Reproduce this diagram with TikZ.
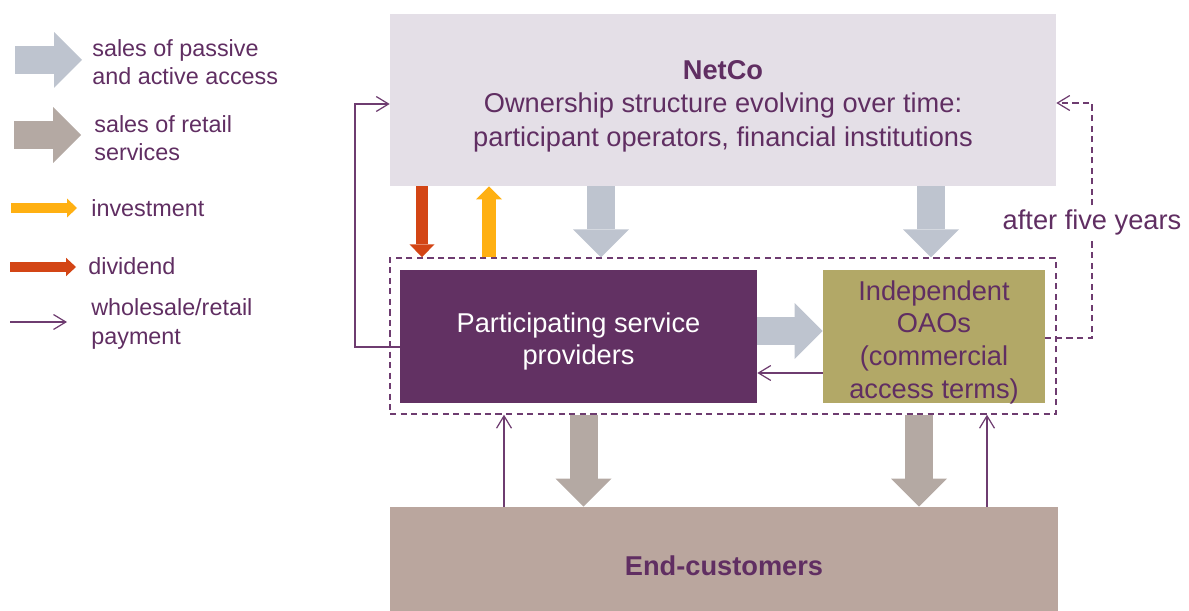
\documentclass[tikz,border=0pt]{standalone}
\usepackage{fontspec}
\setmainfont{Liberation Sans}
\usepackage{xcolor}
\usetikzlibrary{arrows.meta,positioning}
\definecolor{ink}{RGB}{96,46,98}
\definecolor{wire}{RGB}{110,60,112}
\definecolor{netfill}{RGB}{228,223,231}
\definecolor{pspfill}{RGB}{98,49,99}
\definecolor{oaofill}{RGB}{178,168,103}
\definecolor{endfill}{RGB}{186,166,158}
\definecolor{accblue}{RGB}{190,196,207}
\definecolor{acctaupe}{RGB}{180,169,163}
\definecolor{invcol}{RGB}{255,176,18}
\definecolor{divcol}{RGB}{211,69,21}

\begin{document}
\begin{tikzpicture}[x=0.02cm, y=-0.02cm,
  every node/.style={inner sep=0pt, text=ink, align=center},
  block/.style={rectangle, font=\fontsize{15.5}{18.6}\selectfont},
  blocktxt/.style={font=\fontsize{15.5}{18.6}\selectfont},
  netbox/.style={block, fill=netfill, minimum width=13.32cm, minimum height=3.44cm},
  groupbox/.style={rectangle, draw=wire, line width=0.85pt, dash pattern=on 3.5pt off 2.5pt, minimum width=13.32cm, minimum height=3.12cm},
  pspbox/.style={block, fill=pspfill, minimum width=7.14cm, minimum height=2.66cm},
  oaobox/.style={block, fill=oaofill, minimum width=4.44cm, minimum height=2.66cm},
  endbox/.style={block, fill=endfill, minimum width=13.36cm, minimum height=2.36cm},
  fatblue/.style={draw=accblue, line width=0.56cm, -{Triangle[width=1.12cm, length=0.56cm, line width=0pt]}},
  fattaupe/.style={draw=acctaupe, line width=0.56cm, -{Triangle[width=1.12cm, length=0.56cm, line width=0pt]}},
  divarr/.style={draw=divcol, line width=0.25cm, -{Triangle[width=0.5cm, length=0.26cm, line width=0pt]}},
  invarr/.style={draw=invcol, line width=0.27cm, -{Triangle[width=0.52cm, length=0.26cm, line width=0pt]}},
  smalldiv/.style={draw=divcol, line width=0.19cm, -{Triangle[width=0.37cm, length=0.2cm, line width=0pt]}},
  smallinv/.style={draw=invcol, line width=0.2cm, -{Triangle[width=0.38cm, length=0.2cm, line width=0pt]}},
  pay/.style={draw=wire, line width=0.7pt, -{Straight Barb[length=7pt, width=8.5pt]}},
  later/.style={pay, dash pattern=on 3.5pt off 2.5pt},
  lbl/.style={fill=white, inner sep=2pt, font=\fontsize{15.5}{18.6}\selectfont},
  legtxt/.style={anchor=west, align=left, font=\fontsize{13.3}{16}\selectfont}
]
\useasboundingbox (0,0) rectangle (1189,611);

% Legend
\node[legtxt] (leg1) at (92,62) {sales of passive\\and active access};
\node[legtxt] (leg2) at (94,138) {sales of retail\\services};
\node[legtxt] (leg3) at (91,208) {investment};
\node[legtxt] (leg4) at (88,266) {dividend};
\node[legtxt] (leg5) at (91,324) {wholesale/retail\\payment};
\coordinate (k1a) at (15,60);  \coordinate (k1b) at (82,60);
\coordinate (k2a) at (14,135); \coordinate (k2b) at (81,135);
\coordinate (k3a) at (11,208); \coordinate (k3b) at (77,208);
\coordinate (k4a) at (10,267); \coordinate (k4b) at (76,267);
\coordinate (k5a) at (10,322); \coordinate (k5b) at (67,322);
\draw[fatblue] (k1a) -- (k1b);
\draw[fattaupe] (k2a) -- (k2b);
\draw[smallinv] (k3a) -- (k3b);
\draw[smalldiv] (k4a) -- (k4b);
\draw[pay] (k5a) -- (k5b);

% Boxes
\node[netbox] (netco) at (723,100) {};
\node[blocktxt, font=\fontsize{15.5}{19}\selectfont] (netcotxt) at (723,106) {\textbf{NetCo}\\Ownership structure evolving over time:\\participant operators, financial institutions};
\node[groupbox] (group) at (723,336) {};
\node[pspbox] (psp) at (578.5,336.5) {};
\node[blocktxt, text=white] (psptxt) at (578.5,341.5) {Participating service\\providers};
\node[oaobox] (oao) at (934,336.5) {};
\node[blocktxt] (oaotxt) at (934,342) {Independent\\OAOs\\(commercial\\access terms)};
\node[endbox] (end) at (724,566) {\textbf{End-customers}};

% NetCo <-> group
\draw[divarr] (netco.south -| 422,0) -- (group.north -| 422,0);
\draw[invarr] (group.north -| 489,0) -- (netco.south -| 489,0);
\draw[fatblue] (netco.south -| 601,0) -- (group.north -| 601,0);
\draw[fatblue] (netco.south -| 931,0) -- (group.north -| 931,0);

% inside group
\draw[fatblue] (psp.east |- 0,331) -- (oao.west |- 0,331);
\draw[pay] (oao.west |- 0,373) -- (psp.east |- 0,373);

% group <-> end-customers
\draw[fattaupe] (group.south -| 583.5,0) -- (end.north -| 583.5,0);
\draw[fattaupe] (group.south -| 919,0) -- (end.north -| 919,0);
\draw[pay] (end.north -| 504,0) -- (group.south -| 504,0);
\draw[pay] (end.north -| 987,0) -- (group.south -| 987,0);

% payments back to NetCo
\draw[pay] (psp.west |- 0,347) -- (355,347) -- (355,104) -- (netco.west |- 0,104);
\draw[later] (oao.east |- 0,338) -- (1092,338) -- node[lbl, pos=0.49] (after) {after five years} (1092,103) -- (netco.east |- 0,103);

\end{tikzpicture}
\end{document}
